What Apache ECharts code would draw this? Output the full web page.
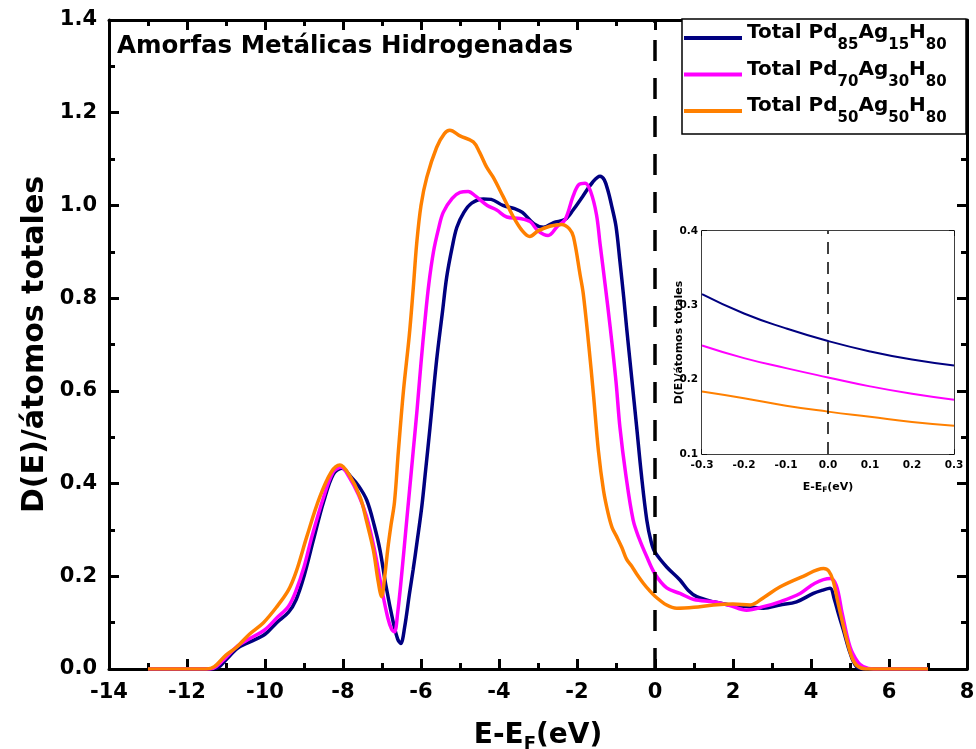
<!DOCTYPE html>
<html><head><meta charset="utf-8">
<script src="https://cdn.jsdelivr.net/npm/echarts@6/dist/echarts.min.js"></script>
<style>html,body{margin:0;padding:0;background:#fff}#c{width:976px;height:749px}</style>
</head><body><div id="c"></div>
<script>
const FONT = 'DejaVu Sans';
const names = ['Total Pd85Ag15H80', 'Total Pd70Ag30H80', 'Total Pd50Ag50H80'];
const colors = ['#000080', '#FF00FF', '#FF8000'];
const chartTitle = 'Amorfas Metálicas Hidrogenadas';
const xTitle = 'E-E{s|F}(eV)';
const yTitle = 'D(E)/átomos totales';

// main DOS curves [E-EF, D(E)]
const pd85 = [[-13,0],[-11.4,0],[-11.2,0.003],[-11.0,0.02],[-10.7,0.045],[-10.4,0.058],[-10.0,0.075],[-9.7,0.1],[-9.4,0.122],[-9.2,0.15],[-9.0,0.2],[-8.76,0.278],[-8.5,0.36],[-8.25,0.42],[-8.03,0.433],[-7.8,0.415],[-7.6,0.395],[-7.39,0.364],[-7.2,0.31],[-7.05,0.256],[-6.9,0.18],[-6.71,0.1],[-6.6,0.065],[-6.52,0.055],[-6.42,0.09],[-6.3,0.16],[-6.2,0.215],[-6.1,0.275],[-5.98,0.35],[-5.88,0.43],[-5.77,0.52],[-5.6,0.666],[-5.45,0.77],[-5.34,0.846],[-5.2,0.91],[-5.08,0.953],[-4.9,0.985],[-4.7,1.005],[-4.4,1.014],[-4.2,1.013],[-3.9,1.0],[-3.6,0.993],[-3.4,0.985],[-3.1,0.96],[-2.86,0.953],[-2.6,0.963],[-2.3,0.97],[-2.1,0.99],[-1.85,1.02],[-1.6,1.05],[-1.41,1.063],[-1.3,1.055],[-1.2,1.03],[-1.1,0.995],[-1.0,0.955],[-0.9,0.88],[-0.8,0.8],[-0.73,0.738],[-0.6,0.63],[-0.47,0.522],[-0.35,0.42],[-0.21,0.321],[-0.1,0.275],[0,0.252],[0.3,0.22],[0.64,0.192],[0.85,0.17],[1.07,0.156],[1.5,0.145],[1.92,0.138],[2.35,0.135],[2.78,0.131],[3.2,0.138],[3.63,0.145],[4.06,0.163],[4.3,0.17],[4.49,0.174],[4.6,0.15],[4.7,0.12],[4.83,0.084],[5.0,0.035],[5.17,0.005],[5.4,0],[7,0]];
const pd70 = [[-13,0],[-11.4,0],[-11.25,0.005],[-11.0,0.025],[-10.7,0.05],[-10.4,0.065],[-10.0,0.085],[-9.7,0.11],[-9.4,0.135],[-9.2,0.17],[-9.0,0.22],[-8.8,0.285],[-8.5,0.37],[-8.25,0.425],[-8.05,0.435],[-7.85,0.415],[-7.6,0.375],[-7.4,0.33],[-7.2,0.26],[-7.0,0.17],[-6.85,0.11],[-6.75,0.085],[-6.68,0.08],[-6.6,0.12],[-6.5,0.2],[-6.4,0.29],[-6.3,0.38],[-6.2,0.47],[-6.1,0.56],[-6.0,0.66],[-5.9,0.75],[-5.8,0.83],[-5.68,0.9],[-5.55,0.95],[-5.43,0.985],[-5.2,1.015],[-5.0,1.028],[-4.79,1.03],[-4.6,1.02],[-4.3,1.0],[-4.06,0.99],[-3.8,0.975],[-3.46,0.972],[-3.2,0.965],[-3.0,0.945],[-2.74,0.935],[-2.5,0.955],[-2.3,0.97],[-2.1,1.02],[-1.95,1.045],[-1.79,1.048],[-1.65,1.03],[-1.5,0.98],[-1.41,0.918],[-1.28,0.83],[-1.15,0.738],[-1.0,0.62],[-0.9,0.522],[-0.75,0.42],[-0.56,0.321],[-0.4,0.28],[-0.21,0.242],[0,0.205],[0.3,0.175],[0.64,0.163],[1.0,0.15],[1.5,0.145],[1.92,0.137],[2.35,0.127],[2.8,0.135],[3.2,0.145],[3.72,0.163],[4.1,0.185],[4.49,0.195],[4.65,0.18],[4.8,0.12],[5.0,0.048],[5.2,0.015],[5.34,0.005],[5.6,0],[7,0]];
const pd50 = [[-13,0],[-11.5,0],[-11.3,0.005],[-11.0,0.03],[-10.73,0.047],[-10.4,0.075],[-10.04,0.1],[-9.7,0.134],[-9.4,0.17],[-9.2,0.21],[-8.93,0.285],[-8.6,0.37],[-8.3,0.425],[-8.08,0.44],[-7.85,0.42],[-7.56,0.371],[-7.4,0.32],[-7.22,0.256],[-7.1,0.19],[-7.01,0.156],[-6.93,0.2],[-6.85,0.26],[-6.77,0.31],[-6.68,0.36],[-6.58,0.47],[-6.45,0.6],[-6.3,0.72],[-6.2,0.82],[-6.11,0.918],[-6.0,1.0],[-5.85,1.061],[-5.6,1.125],[-5.4,1.155],[-5.26,1.162],[-5.0,1.15],[-4.66,1.137],[-4.5,1.115],[-4.32,1.083],[-4.15,1.061],[-3.9,1.02],[-3.63,0.975],[-3.4,0.945],[-3.21,0.933],[-3.0,0.945],[-2.7,0.955],[-2.39,0.959],[-2.2,0.95],[-2.09,0.932],[-1.92,0.85],[-1.84,0.81],[-1.7,0.7],[-1.58,0.594],[-1.45,0.47],[-1.32,0.385],[-1.2,0.335],[-1.1,0.305],[-0.98,0.285],[-0.85,0.262],[-0.73,0.237],[-0.6,0.222],[-0.47,0.205],[-0.3,0.185],[-0.15,0.17],[0,0.157],[0.3,0.138],[0.56,0.131],[1.0,0.133],[1.5,0.138],[2.0,0.14],[2.44,0.138],[2.8,0.155],[3.2,0.177],[3.8,0.2],[4.32,0.217],[4.45,0.212],[4.57,0.19],[4.7,0.14],[4.92,0.062],[5.05,0.025],[5.17,0.008],[5.4,0],[7,0]];

// inset (zoom around Fermi level)
const insetX = [-0.3, -0.2, -0.1, 0, 0.1, 0.2, 0.3];
const inset85 = [0.315, 0.289, 0.269, 0.252, 0.238, 0.227, 0.219];
const inset70 = [0.246, 0.229, 0.2155, 0.203, 0.191, 0.181, 0.173];
const inset50 = [0.184, 0.175, 0.165, 0.157, 0.150, 0.143, 0.138];

const fermiMain = [[0, 0], [0, 1.4]];
const fermiInset = [[0, 0.1], [0, 0.4]];

const chart = echarts.init(document.getElementById('c'), null, {renderer: 'canvas'});
const zip = (xs, ys) => xs.map((x, i) => [x, ys[i]]);

function mkX(grid, pos, min, max, interval, main, showLabel, name) {
  const w = main ? 3 : 1.5;
  return {
    type: 'value', gridIndex: grid, position: pos, min: min, max: max, interval: interval,
    axisLine: { show: true, onZero: false, lineStyle: { color: '#000', width: w } },
    axisTick: { show: true, inside: true, length: main ? 10 : 5, lineStyle: { color: '#000', width: w } },
    minorTick: { show: true, splitNumber: 2, length: main ? 6 : 3, lineStyle: { color: '#000', width: w } },
    splitLine: { show: false }, minorSplitLine: { show: false },
    axisLabel: { show: showLabel, color: '#000', fontFamily: FONT, fontWeight: 'bold', fontSize: main ? 21 : 10.5, margin: main ? 13 : 6,
      formatter: v => main ? String(Math.round(v)) : (Math.abs(v) < 1e-9 ? '0.0' : v.toFixed(1)) },
    name: name || '', nameLocation: 'middle', nameGap: main ? 50 : 26, nameMoveOverlap: false,
    nameTextStyle: { color: '#000', fontFamily: FONT, fontWeight: 'bold', fontSize: main ? 28 : 11, lineHeight: main ? 34 : 14,
      rich: { s: { fontFamily: FONT, fontWeight: 'bold', fontSize: main ? 18 : 7.5, verticalAlign: 'bottom', lineHeight: main ? 24 : 10 } } }
  };
}
function mkY(grid, pos, min, max, interval, main, showLabel, name) {
  const w = main ? 3 : 1.5;
  return {
    type: 'value', gridIndex: grid, position: pos, min: min, max: max, interval: interval,
    axisLine: { show: true, onZero: false, lineStyle: { color: '#000', width: w } },
    axisTick: { show: true, inside: true, length: main ? 10 : 5, lineStyle: { color: '#000', width: w } },
    minorTick: { show: true, splitNumber: 2, length: main ? 6 : 3, lineStyle: { color: '#000', width: w } },
    splitLine: { show: false }, minorSplitLine: { show: false },
    axisLabel: { show: showLabel, color: '#000', fontFamily: FONT, fontWeight: 'bold', fontSize: main ? 21 : 10.5, margin: main ? 12 : 4,
      formatter: v => v.toFixed(1) },
    name: name || '', nameLocation: 'middle', nameGap: main ? 59 : 17, nameRotate: 90, nameMoveOverlap: false,
    nameTextStyle: { color: '#000', fontFamily: FONT, fontWeight: 'bold', fontSize: main ? 30 : 11 }
  };
}

const lineSeries = (data, color, xi, yi, w, legendName) => ({
  name: legendName, type: 'line', xAxisIndex: xi, yAxisIndex: yi, data: data,
  showSymbol: false, symbol: 'none', smooth: 0.35, clip: true,
  lineStyle: { color: color, width: w }, itemStyle: { color: color }, z: 3
});

const legendFmt = n => '{h|\u200b}' + n.split(/(\d+)/).filter(p => p.length).map(p => /^\d+$/.test(p) ? '{s|' + p + '}' : '{m|' + p + '}').join('');

const option = {
  animation: false,
  backgroundColor: '#fff',
  title: { text: chartTitle, left: 117, top: 34, padding: 0,
    textStyle: { color: '#000', fontFamily: FONT, fontWeight: 'bold', fontSize: 24.5 } },
  grid: [
    { left: 109, right: 9, top: 20, bottom: 80, show: false, containLabel: false, outerBoundsMode: 'none' },
    { left: 702, top: 231, width: 252, height: 223, show: true, backgroundColor: '#fff', borderWidth: 0, z: 5, containLabel: false, outerBoundsMode: 'none' }
  ],
  xAxis: [
    mkX(0, 'bottom', -14, 8, 2, true, true, xTitle),
    mkX(0, 'top', -14, 8, 2, true, false),
    mkX(1, 'bottom', -0.3, 0.3, 0.1, false, true, xTitle),
    mkX(1, 'top', -0.3, 0.3, 0.1, false, false)
  ],
  yAxis: [
    mkY(0, 'left', 0, 1.4, 0.2, true, true, yTitle),
    mkY(0, 'right', 0, 1.4, 0.2, true, false),
    mkY(1, 'left', 0.1, 0.4, 0.1, false, true, yTitle),
    mkY(1, 'right', 0.1, 0.4, 0.1, false, false)
  ],
  legend: {
    data: names, orient: 'vertical', left: 684, top: 23, itemGap: 6.5, itemWidth: 58, itemHeight: 4,
    icon: 'rect', padding: 0, selectedMode: false, z: 10,
    formatter: legendFmt,
    textStyle: { color: '#000', fontFamily: FONT, fontWeight: 'bold', fontSize: 20,
      rich: {
        h: { fontSize: 10, lineHeight: 30, width: 0 },
        m: { fontFamily: FONT, fontWeight: 'bold', fontSize: 20, lineHeight: 19, verticalAlign: 'top', color: '#000' },
        s: { fontFamily: FONT, fontWeight: 'bold', fontSize: 15, lineHeight: 14, verticalAlign: 'bottom', color: '#000' }
      } }
  },
  graphic: [
    { type: 'rect', shape: { x: 682, y: 19, width: 284, height: 115 }, z: 8,
      style: { fill: '#fff', stroke: '#000', lineWidth: 1.5 } }
  ],
  series: [
    lineSeries(pd85, colors[0], 0, 0, 3.5, names[0]),
    lineSeries(pd70, colors[1], 0, 0, 3.5, names[1]),
    lineSeries(pd50, colors[2], 0, 0, 3.5, names[2]),
    { type: 'line', xAxisIndex: 0, yAxisIndex: 0, data: fermiMain, showSymbol: false, symbol: 'none', z: 4,
      lineStyle: { color: '#000', width: 3.5, type: [21, 17] } },
    Object.assign(lineSeries(zip(insetX, inset85), colors[0], 2, 2, 2, 'i85'), { smooth: true, z: 6 }),
    Object.assign(lineSeries(zip(insetX, inset70), colors[1], 2, 2, 2, 'i70'), { smooth: true, z: 6 }),
    Object.assign(lineSeries(zip(insetX, inset50), colors[2], 2, 2, 2, 'i50'), { smooth: true, z: 6 }),
    { type: 'line', xAxisIndex: 2, yAxisIndex: 2, data: fermiInset, showSymbol: false, symbol: 'none', z: 6,
      lineStyle: { color: '#000', width: 1.5, type: [12, 8] } }
  ]
};
chart.setOption(option);
</script>
</body></html>
